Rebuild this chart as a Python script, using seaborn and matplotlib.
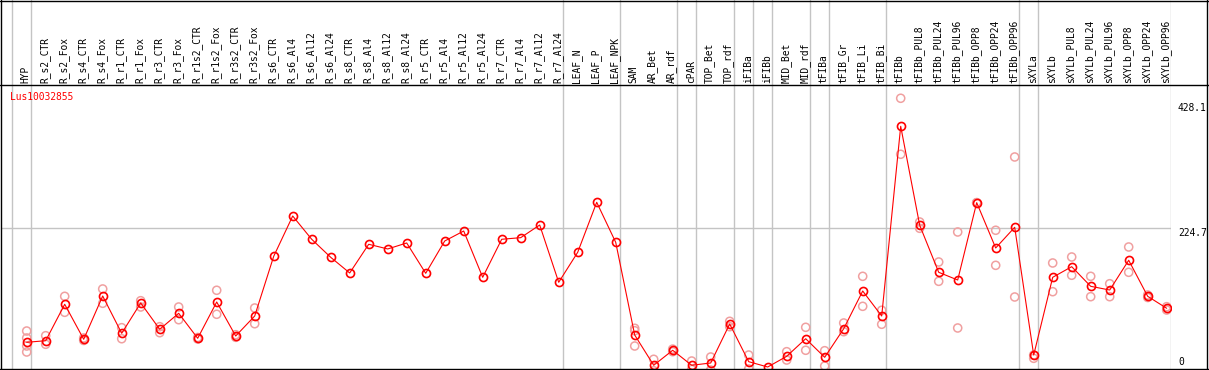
import matplotlib
matplotlib.use("Agg")
import matplotlib.pyplot as plt
from matplotlib.lines import Line2D
import pandas as pd
import seaborn as sns

# expression profile for one gene
gene = "Lus10032855"

samples = [
    "HYP",
    "R_s2_CTR", "R_s2_Fox", "R_s4_CTR", "R_s4_Fox", "R_r1_CTR", "R_r1_Fox",
    "R_r3_CTR", "R_r3_Fox", "R_r1s2_CTR", "R_r1s2_Fox", "R_r3s2_CTR", "R_r3s2_Fox",
    "R_s6_CTR", "R_s6_Al4", "R_s6_Al12", "R_s6_Al24",
    "R_s8_CTR", "R_s8_Al4", "R_s8_Al12", "R_s8_Al24",
    "R_r5_CTR", "R_r5_Al4", "R_r5_Al12", "R_r5_Al24",
    "R_r7_CTR", "R_r7_Al4", "R_r7_Al12", "R_r7_Al24",
    "LEAF_N", "LEAF_P", "LEAF_NPK",
    "SAM", "AR_Bet", "AR_rdf",
    "cPAR",
    "TOP_Bet", "TOP_rdf",
    "iFIBa",
    "iFIBb",
    "MID_Bet", "MID_rdf",
    "tFIBa",
    "tFIB_Gr", "tFIB_Li", "tFIB_Bi",
    "tFIBb", "tFIBb_PUL8", "tFIBb_PUL24", "tFIBb_PUL96",
    "tFIBb_OPP8", "tFIBb_OPP24", "tFIBb_OPP96",
    "sXYLa",
    "sXYLb", "sXYLb_PUL8", "sXYLb_PUL24", "sXYLb_PUL96",
    "sXYLb_OPP8", "sXYLb_OPP24", "sXYLb_OPP96",
]

# number of samples in each block between the grey separators
group_sizes = [1, 28, 3, 3, 1, 2, 1, 1, 2, 1, 3, 7, 1, 7]

mean_expr = [
    40.0,
    42.6, 101.6, 44.9, 115.0, 54.6, 103.7, 61.1, 87.0, 46.5, 105.3, 50.2, 82.6,
    179.3, 244.6, 206.9, 177.7,
    152.3, 198.8, 191.2, 200.9,
    151.8, 204.1, 220.3, 145.3,
    206.9, 209.5, 230.0, 137.2,
    185.8, 266.8, 202.0,
    51.8, 2.8, 27.1,
    2.8,
    6.5, 69.7,
    8.6,
    0.0,
    17.3, 45.8,
    15.7,
    62.0, 123.1, 82.6,
    389.9, 229.6, 153.4, 140.9, 266.2, 192.8, 226.3,
    19.4,
    145.3, 162.5, 130.7, 124.7, 172.9, 114.5, 95.1,
]

replicates = [
    [58.3, 47.0, 34.0, 24.3],
    [50.7, 36.8], [114.5, 88.6], [47.0, 43.0], [126.4, 103.2], [63.7, 45.8],
    [107.4, 97.2], [65.3, 55.6], [97.2, 76.6], [47.8, 45.4], [124.3, 85.4],
    [52.3, 48.1], [95.6, 70.1],
    [], [], [], [],
    [], [], [], [],
    [], [], [], [],
    [], [], [], [],
    [], [], [],
    [62.7, 58.8, 34.0], [12.5, -6.0], [29.0, 24.8],
    [9.7, -4.0],
    [16.2, -4.9], [74.0, 65.3],
    [19.4, -3.2],
    [],
    [24.8, 11.3], [64.3, 27.1],
    [26.4, 1.6],
    [71.3, 57.2], [146.9, 98.3], [91.9, 69.2],
    [435.3, 344.6], [234.9, 224.7], [170.1, 138.8], [218.7, 63.2],
    [266.2, 266.2], [221.5, 164.7], [340.2, 113.4],
    [14.1, 19.4],
    [168.5, 122.0], [178.2, 148.6], [146.9, 113.9], [134.9, 113.9],
    [194.4, 153.4], [116.6, 112.6], [97.7, 92.3],
]

y_ticks = [0, 224.7, 428.1]
y_tick_labels = ["0", "224.7", "428.1"]

sns.set_theme(style="white")
plt.rcParams["font.family"] = ["DejaVu Sans Mono", "DejaVu Sans"]

W, H = 1209, 370
FS = 6.9
RED = "#ff0000"
PINK = "#f0a0a0"
GRID = "#c4c4c4"


def px_box(x0, y0, x1, y1):
    return [x0 / W, 1 - y1 / H, (x1 - x0) / W, (y1 - y0) / H]


df_mean = pd.DataFrame({"pos": range(len(samples)), "expr": mean_expr})
df_rep = pd.DataFrame(
    [(i, v) for i, reps in enumerate(replicates) for v in reps],
    columns=["pos", "expr"],
)

fig = plt.figure(figsize=(W / 100, H / 100), dpi=100)
ax = fig.add_axes(px_box(1, 85, 1171, 369))
head = fig.add_axes(px_box(1, 0, 1171, 85))

xmin, xmax = (1 - 26.7) / 19, (1171 - 26.7) / 19
ymin, ymax = -3.24, 456.8

sns.scatterplot(data=df_rep, x="pos", y="expr", ax=ax, marker="o", s=34,
                color=PINK, facecolor="none", edgecolor=PINK,
                linewidth=1.1, zorder=3)
sns.lineplot(data=df_mean, x="pos", y="expr", ax=ax, sort=False,
             color=RED, linewidth=0.8, marker="o", markersize=5.8,
             markerfacecolor="none", markeredgecolor=RED,
             markeredgewidth=1.2, zorder=4)

ax.set_xlim(xmin, xmax)
ax.set_ylim(ymin, ymax)
head.set_xlim(xmin, xmax)
head.set_ylim(0, 85)
head.axis("off")
for s in ax.spines.values():
    s.set_visible(False)

# grey separators between sample groups
seps = [-1]
for n in group_sizes:
    seps.append(seps[-1] + n)
for s in seps:
    ax.axvline(s + 0.21, color=GRID, lw=1, zorder=1)
    head.axvline(s + 0.21, color=GRID, lw=1, zorder=1)
ax.axhline(224.7, color=GRID, lw=1, zorder=1)

ax.set_xticks([])
ax.set_xlabel("")
ax.set_ylabel("")
ax.yaxis.tick_right()
ax.set_yticks(y_ticks)
ax.set_yticklabels(y_tick_labels)
ax.tick_params(axis="y", length=0, pad=5, labelsize=FS, labelcolor="black")
for lbl in ax.get_yticklabels():
    lbl.set_verticalalignment("bottom" if lbl.get_text() == "0" else "top")

for i, name in enumerate(samples):
    head.text(i - 0.05, 2, name, rotation=90, ha="center", va="bottom",
              fontsize=FS, color="black")

fig.text(10 / W, 1 - 92 / H, gene, color=RED, fontsize=FS,
         ha="left", va="top")

# black frame and header divider
for (x0, y0, x1, y1) in [(0, 0.5, W, 0.5), (0, 85, W, 85), (0, 369, W, 369),
                         (1, 0, 1, H), (1206.5, 0, 1206.5, H)]:
    fig.add_artist(Line2D([x0 / W, x1 / W], [1 - y0 / H, 1 - y1 / H],
                          transform=fig.transFigure, color="black", lw=1))

fig.savefig("out.png", dpi=100)
